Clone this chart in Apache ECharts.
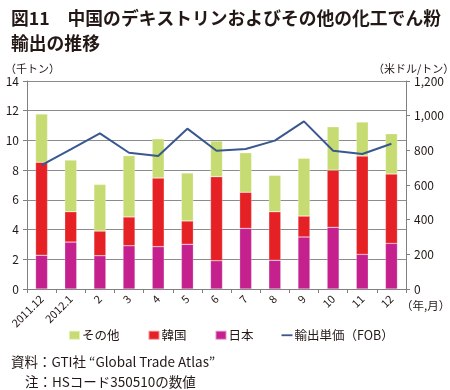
<!DOCTYPE html>
<html><head><meta charset="utf-8">
<script src="https://cdn.jsdelivr.net/npm/echarts@6/dist/echarts.min.js"></script>
<style>html,body{margin:0;padding:0;background:#fff}#c{width:450px;height:390px}</style>
</head><body><div id="c"></div>
<script>
const categories = ['2011.12','2012.1','2','3','4','5','6','7','8','9','10','11','12'];
const japan = [2.27, 3.16, 2.24, 2.91, 2.85, 3.01, 1.90, 4.08, 1.93, 3.50, 4.15, 2.33, 3.07];
const korea = [6.26, 2.04, 1.66, 1.94, 4.62, 1.57, 5.66, 2.43, 3.27, 1.41, 3.85, 6.62, 4.67];
const other = [3.25, 3.48, 3.14, 4.12, 2.64, 3.23, 2.40, 2.66, 2.45, 3.89, 2.92, 2.29, 2.71];
const price = [715, 805, 898, 786, 767, 925, 798, 808, 856, 967, 798, 779, 838];
const leftTicks = [0, 2, 4, 6, 8, 10, 12, 14];
const rightTicks = [0, 200, 400, 600, 800, 1000, 1200];

const FONT = '"Noto Sans CJK JP", "Noto Sans", sans-serif';
const chart = echarts.init(document.getElementById('c'), null, {renderer: 'canvas'});
chart.setOption({
  animation: false,
  textStyle: {fontFamily: FONT},
  title: [
    {text: '図11　中国のデキストリンおよびその他の化工でん粉\n輸出の推移', left: 6, top: 1,
     textStyle: {fontSize: 17.8, fontWeight: 'bold', color: '#231815', lineHeight: 25, fontFamily: FONT}},
    {text: '（千トン）', left: 0, top: 58, textStyle: {fontSize: 11, fontWeight: 'normal', color: '#231815', fontFamily: FONT}},
    {text: '（米ドル/トン）', left: 368, top: 58, textStyle: {fontSize: 11, fontWeight: 'normal', color: '#231815', fontFamily: FONT}},
    {text: '（年,月）', left: 396, top: 295, textStyle: {fontSize: 11.5, fontWeight: 'normal', color: '#231815', fontFamily: FONT}},
    {text: '資料：GTI社 “Global Trade Atlas”', left: 6, top: 350, textStyle: {fontSize: 13.5, fontWeight: 'normal', color: '#231815', fontFamily: FONT}},
    {text: '注：HSコード350510の数値', left: 20, top: 370, textStyle: {fontSize: 13.5, fontWeight: 'normal', color: '#231815', fontFamily: FONT}}
  ],
  legend: {
    left: 63, top: 324, itemWidth: 11, itemHeight: 9, itemGap: 28,
    textStyle: {fontSize: 12.5, color: '#231815', fontFamily: FONT, padding: [0, 0, 0, -3]},
    data: [
      {name: 'その他', icon: 'rect'},
      {name: '韓国', icon: 'rect'},
      {name: '日本', icon: 'rect'},
      {name: '輸出単価（FOB）', icon: 'path://M0,4 L12,4 L12,6 L0,6 Z'}
    ]
  },
  grid: {left: 27, right: 44, top: 81, bottom: 101},
  xAxis: {
    type: 'category', data: categories,
    axisLine: {lineStyle: {color: '#808080', width: 1}},
    axisTick: {show: true, alignWithLabel: false, length: 4, lineStyle: {color: '#808080'}},
    axisLabel: {rotate: 45, fontSize: 11, color: '#231815', margin: 8, interval: 0}
  },
  yAxis: [
    {type: 'value', min: 0, max: 14, interval: 2,
     axisLine: {show: true, lineStyle: {color: '#808080'}},
     axisTick: {show: true, length: 4, lineStyle: {color: '#808080'}},
     axisLabel: {fontSize: 12, color: '#231815', margin: 8},
     splitLine: {lineStyle: {color: '#8c8c8c', width: 1}}},
    {type: 'value', min: 0, max: 1200, interval: 200, position: 'right',
     axisLine: {show: true, lineStyle: {color: '#808080'}},
     axisTick: {show: true, length: 4, lineStyle: {color: '#808080'}},
     axisLabel: {fontSize: 12, color: '#231815', margin: 8,
       formatter: v => v.toLocaleString('en-US')},
     splitLine: {show: false}}
  ],
  series: [
    {name: '日本', type: 'bar', stack: 's', data: japan, barWidth: 12,
     itemStyle: {color: '#c4218e', borderColor: 'rgba(255,255,255,0.5)', borderWidth: 0.5}},
    {name: '韓国', type: 'bar', stack: 's', data: korea, barWidth: 12,
     itemStyle: {color: '#e62125', borderColor: 'rgba(255,255,255,0.5)', borderWidth: 0.5}},
    {name: 'その他', type: 'bar', stack: 's', data: other, barWidth: 12,
     itemStyle: {color: '#c6dc72', borderColor: 'rgba(255,255,255,0.5)', borderWidth: 0.5}},
    {name: '輸出単価（FOB）', type: 'line', yAxisIndex: 1, data: price, showSymbol: false, symbol: 'none',
     lineStyle: {color: '#3a5890', width: 2}, itemStyle: {color: '#3a5890'}}
  ]
});
</script></body></html>
